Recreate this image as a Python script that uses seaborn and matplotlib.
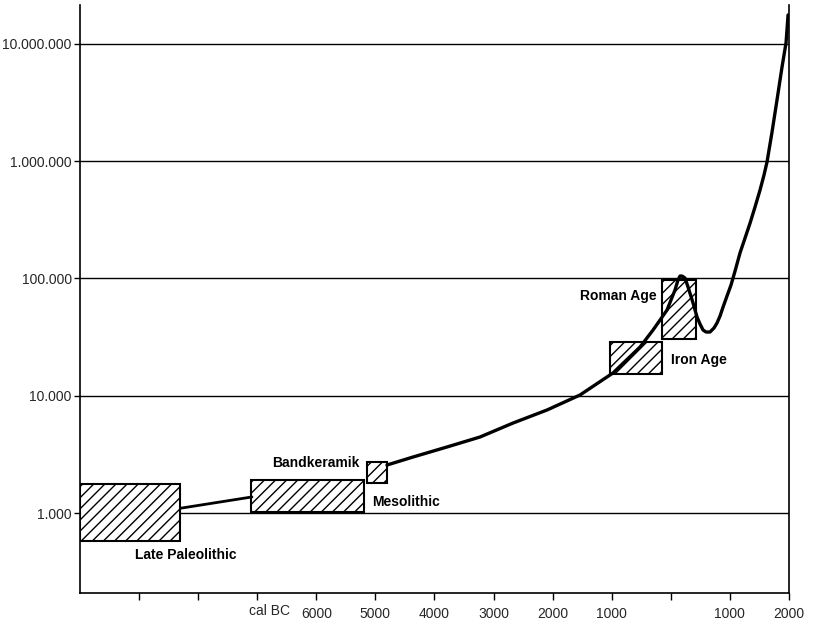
import matplotlib
matplotlib.use("Agg")
import matplotlib.pyplot as plt
import seaborn as sns
import numpy as np
import pandas as pd

# ---- data (years: negative = BC) ----
early_x = [-8290, -7090]
early_y = [1100, 1370]

curve_x = [-4804, -4364, -3788, -3230, -2671, -2096, -1537, -978, -521, -301, -182,
           -64, 3, 71, 121, 156, 190, 240, 291, 376, 443, 494, 545, 596, 663, 731,
           782, 833, 884, 951, 1019, 1087, 1171, 1256, 1341, 1425, 1510, 1577,
           1628, 1713, 1797, 1882, 1950, 1984]
curve_y = [2565, 3000, 3654, 4444, 5846, 7550, 10140, 15630, 26000, 36300, 44200,
           53800, 65500, 79600, 96900, 104700, 104700, 100700, 84500, 61700, 46900,
           40800, 36300, 34900, 34900, 37800, 41700, 47800, 57000, 70800, 87900,
           115600, 164800, 220800, 296000, 406000, 567000, 761000, 982000,
           1770000, 3320000, 6340000, 10200000, 17600000]

box_names = ["Late Paleolithic", "Mesolithic", "Bandkeramik", "Iron Age", "Roman Age"]
box_x0 = [-10000, -7100, -5150, -1030, -145]
box_x1 = [-8300, -5200, -4810, -145, 430]
box_y0 = [577, 1020, 1800, 15300, 30400]
box_y1 = [1766, 1910, 2720, 28700, 97000]

y_ticks = [1e3, 1e4, 1e5, 1e6, 1e7]
y_labels = ["1.000", "10.000", "100.000", "1.000.000", "10.000.000"]
x_ticks = [-9000, -8000, -7000, -6000, -5000, -4000, -3000, -2000, -1000, 0, 1000, 2000]
x_labels = ["", "", "", "6000", "5000", "4000", "3000", "2000", "1000", "", "1000", "2000"]

sns.set_theme(style="white")
plt.rcParams["font.family"] = ["Liberation Sans", "DejaVu Sans"]
plt.rcParams["hatch.linewidth"] = 1.0

fig = plt.figure(figsize=(8.15, 6.26), dpi=100)
ax = fig.add_axes([80 / 815, 1 - 593 / 626, (789 - 80) / 815, (593 - 5) / 626])
ax.set_yscale("log")

# gridlines
for t in y_ticks:
    ax.axhline(t, color="black", lw=1.0, zorder=1)

# boxes
ax.bar(x=box_x0, height=np.array(box_y1) - np.array(box_y0), bottom=box_y0,
       width=np.array(box_x1) - np.array(box_x0), align="edge",
       facecolor="white", edgecolor="black", linewidth=1.5, hatch="///", zorder=2)

df1 = pd.DataFrame({"x": early_x, "y": early_y})
df2 = pd.DataFrame({"x": curve_x, "y": curve_y})
sns.lineplot(data=df1, x="x", y="y", ax=ax, color="black", lw=2.0, zorder=3)
sns.lineplot(data=df2, x="x", y="y", ax=ax, color="black", lw=2.4, zorder=3,
             sort=False)
for l in ax.get_lines():
    l.set_solid_joinstyle("round")
    l.set_solid_capstyle("round")

ax.set_xlim(-10000, 2000)
ax.set_ylim(208, 2.14e7)
ax.set_yticks(y_ticks)
ax.set_yticklabels(y_labels, fontsize=10)
ax.minorticks_off()
ax.set_xticks(x_ticks)
ax.set_xticklabels(x_labels, fontsize=10)
ax.tick_params(axis="y", direction="out", length=4, width=1.0, color="black",
               left=True, pad=2)
ax.tick_params(axis="x", direction="out", length=5, width=1.0, color="black",
               bottom=True, pad=5)
ax.set_xlabel("")
ax.set_ylabel("")
for s in ["left", "right", "bottom"]:
    ax.spines[s].set_visible(True)
    ax.spines[s].set_color("black")
    ax.spines[s].set_linewidth(1.2)
ax.spines["top"].set_visible(False)

# annotations
tkw = dict(fontsize=10, fontweight="bold", va="center", color="black")
ax.text(-9069, 438, "Late Paleolithic", ha="left", **tkw)
ax.text(-5058, 1241, "Mesolithic", ha="left", **tkw)
ax.text(-5261, 2666, "Bandkeramik", ha="right", **tkw)
ax.text(-234, 70800, "Roman Age", ha="right", **tkw)
ax.text(0, 20100, "Iron Age", ha="left", **tkw)

ax.text(-6450, -0.031, "cal BC", transform=ax.get_xaxis_transform(),
        ha="right", va="center", fontsize=10)

fig.savefig("out.png", dpi=100)
